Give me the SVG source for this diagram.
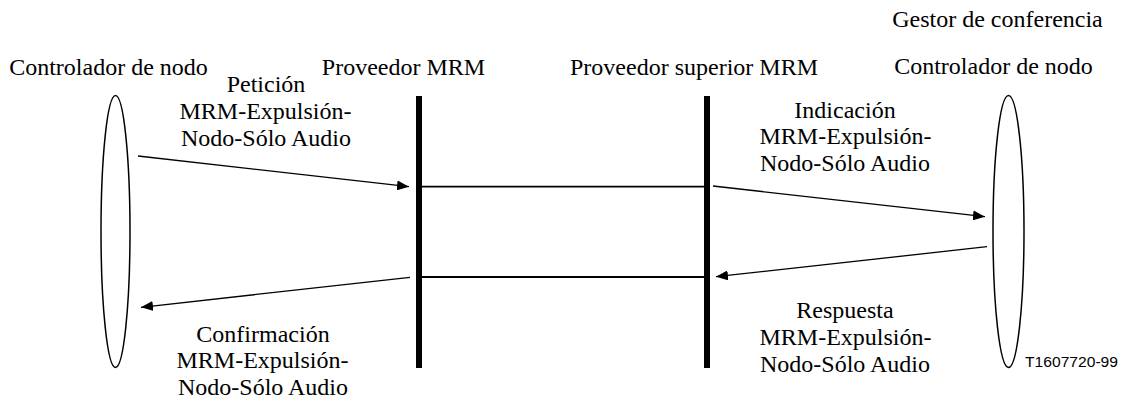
<svg xmlns="http://www.w3.org/2000/svg" width="1125" height="402" viewBox="0 0 1125 402">
<defs>
<style>
.t{font-family:"Liberation Serif","Times New Roman",Tinos,"DejaVu Serif",serif;font-size:24px;fill:#000;text-anchor:middle}
.s{font-family:"Liberation Sans",Arial,sans-serif;font-size:15px;fill:#000}
.el{fill:none;stroke:#000;stroke-width:1.5}
.bar{stroke:#000;stroke-width:6}
.ln{stroke:#000;stroke-width:1.8;fill:none}
.ar{stroke:#000;stroke-width:1.3;fill:none;marker-end:url(#ah)}
</style>
<marker id="ah" viewBox="0 0 12 10" refX="12" refY="5" markerWidth="12" markerHeight="10" markerUnits="userSpaceOnUse" orient="auto">
<path d="M0,0 L12,5 L0,10 Z" fill="#000"/>
</marker>
</defs>
<rect width="1125" height="402" fill="#fff"/>
<g id="nodo-izq">
<ellipse class="el" cx="115.5" cy="231.5" rx="14.5" ry="136"/>
<text class="t" x="108.5" y="75">Controlador de nodo</text>
</g>
<g id="proveedor-mrm">
<line class="bar" x1="419" y1="96" x2="419" y2="368"/>
<text class="t" x="403.5" y="75">Proveedor MRM</text>
</g>
<g id="proveedor-superior">
<line class="bar" x1="707" y1="96" x2="707" y2="368"/>
<text class="t" x="694" y="75">Proveedor superior MRM</text>
</g>
<g id="nodo-der">
<ellipse class="el" cx="1008.5" cy="231.5" rx="15.5" ry="136"/>
<text class="t" x="997.5" y="27">Gestor de conferencia</text>
<text class="t" x="993.5" y="74">Controlador de nodo</text>
</g>
<g id="connectors">
<line class="ln" x1="422" y1="186.7" x2="704" y2="186.7"/>
<line class="ln" x1="422" y1="277" x2="704" y2="277"/>
<line class="ar" x1="138" y1="156" x2="409" y2="186.7"/>
<line class="ar" x1="410" y1="277.3" x2="141" y2="307.3"/>
<line class="ar" x1="713" y1="186" x2="985" y2="216.7"/>
<line class="ar" x1="987" y1="246.7" x2="716" y2="276.7"/>
</g>
<g id="labels">
<text class="t"><tspan x="266" y="92">Petición</tspan><tspan x="265.5" y="119">MRM-Expulsión-</tspan><tspan x="266" y="146">Nodo-Sólo Audio</tspan></text>
<text class="t"><tspan x="263" y="341.5">Confirmación</tspan><tspan x="262.5" y="368">MRM-Expulsión-</tspan><tspan x="263" y="395">Nodo-Sólo Audio</tspan></text>
<text class="t"><tspan x="845" y="118">Indicación</tspan><tspan x="845.5" y="144">MRM-Expulsión-</tspan><tspan x="845" y="171">Nodo-Sólo Audio</tspan></text>
<text class="t"><tspan x="845" y="318">Respuesta</tspan><tspan x="845.5" y="345">MRM-Expulsión-</tspan><tspan x="845" y="371.5">Nodo-Sólo Audio</tspan></text>
<text class="s" x="1025" y="366.7" textLength="93" lengthAdjust="spacingAndGlyphs">T1607720-99</text>
</g>
</svg>
